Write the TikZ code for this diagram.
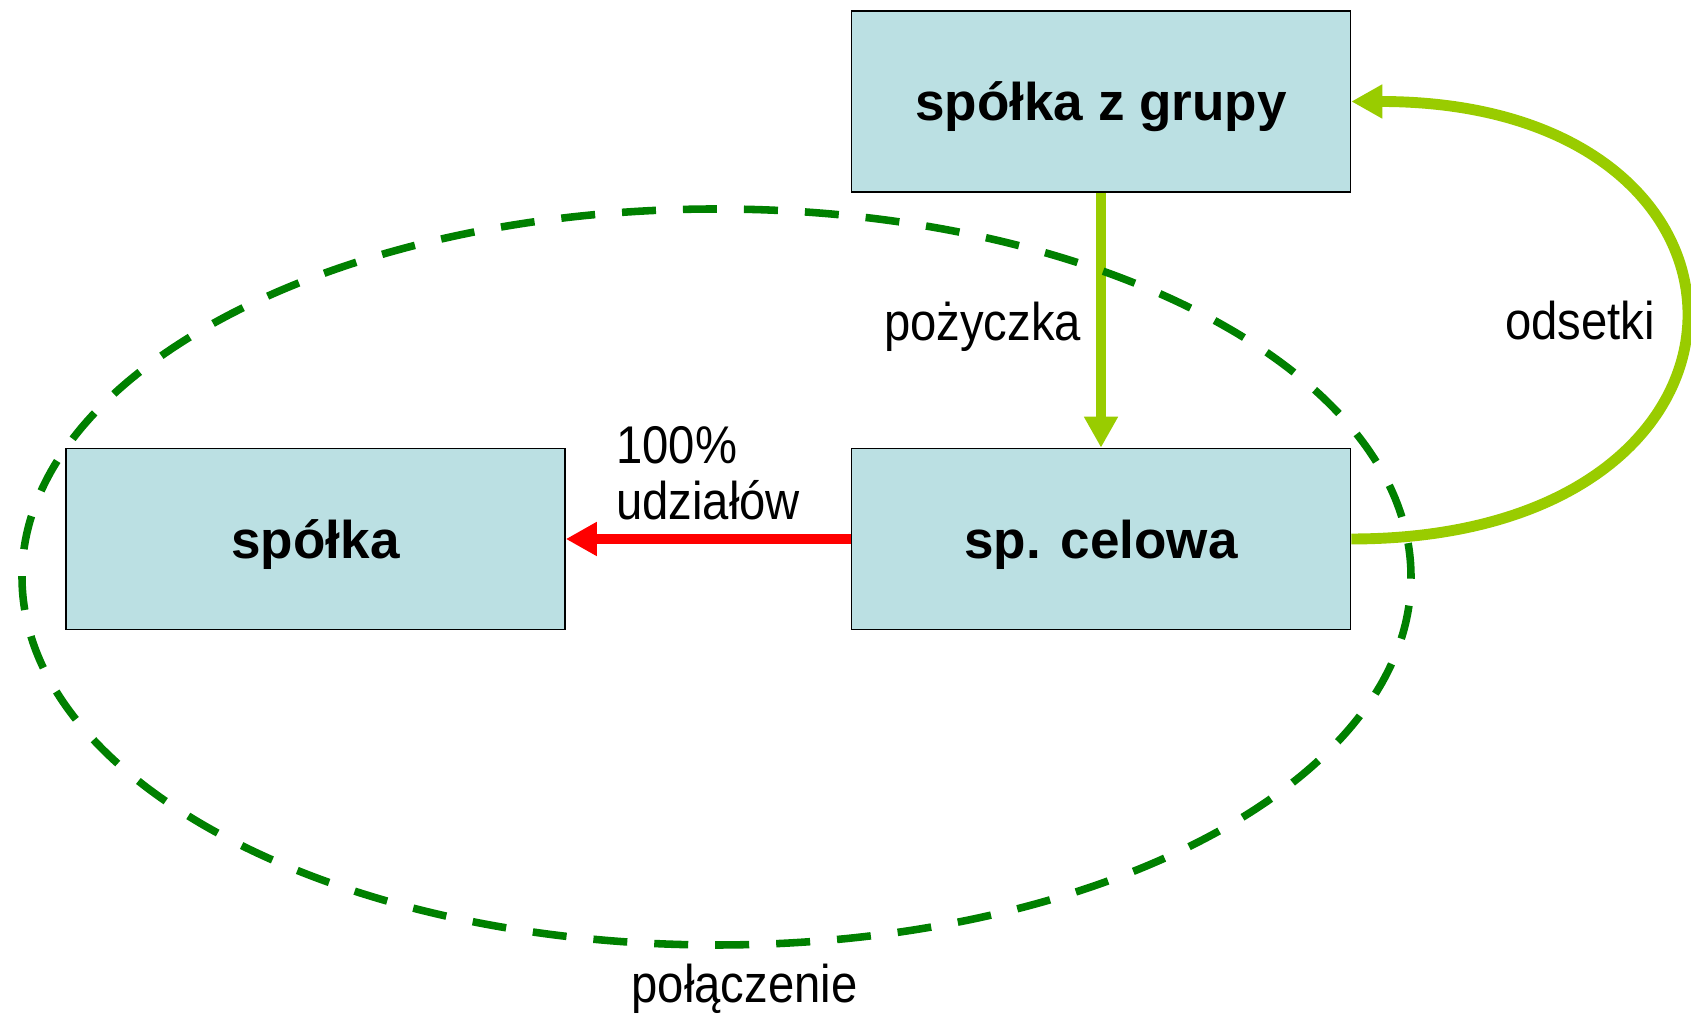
\documentclass[tikz,border=0pt]{standalone}
\usepackage{fontspec}
\setmainfont{Liberation Sans}
\newfontfamily\narrowfont[FakeStretch=0.89]{Liberation Sans}
\usetikzlibrary{positioning, arrows.meta}

\definecolor{boxblue}{HTML}{BBE0E3}
\definecolor{loangreen}{HTML}{99CC00}
\definecolor{mergegreen}{HTML}{008000}

\begin{document}
\begin{tikzpicture}[
  firm/.style  = {draw, line width=0.9pt, fill=boxblue,
                  minimum width=9.98cm, minimum height=3.62cm,
                  text height=0.98cm, text depth=0.2cm,
                  font=\bfseries\fontsize{30.2}{32.4}\selectfont},
  money/.style = {draw=loangreen, line width=6.2pt,
                  -{Triangle[length=0.62cm, width=0.64cm]}},
  share/.style = {draw=red, line width=6.2pt,
                  -{Triangle[length=0.62cm, width=0.64cm]}},
  merge/.style = {draw=mergegreen, line width=4.3pt,
                  dash pattern=on 0.68cm off 0.54cm},
  lbl/.style   = {font=\narrowfont\fontsize{30.2}{32.4}\selectfont,
                  align=left, inner sep=4pt},
]
\useasboundingbox (0,0) rectangle (33.82,20.3);

% --- companies -----------------------------------------------------------
\node[firm] (grupa)  at (22.02,18.27) {spółka z grupy};
\node[firm] (celowa) at (22.02,9.52)  {sp. celowa};
\node[firm] (spolka) at (6.31,9.52)   {spółka};

% --- flows ---------------------------------------------------------------
\draw[money] (grupa) -- node[lbl,left=1.5mm,yshift=-1.3mm] {pożyczka} (celowa);
\draw[money] (celowa.east) .. controls +(8.88,0) and +(8.88,0) ..
     node[lbl,left=3.4mm,pos=0.5] {odsetki} (grupa.east);
\draw[share] (celowa) -- node[lbl,above=1.2mm] {100\%\\udziałów} (spolka);

% --- merger --------------------------------------------------------------
\draw[merge] (14.33,8.76) ellipse [x radius=13.89, y radius=7.36];
\node[lbl,anchor=base] (polaczenie) at (14.89,0.24) {połączenie};

\end{tikzpicture}
\end{document}
